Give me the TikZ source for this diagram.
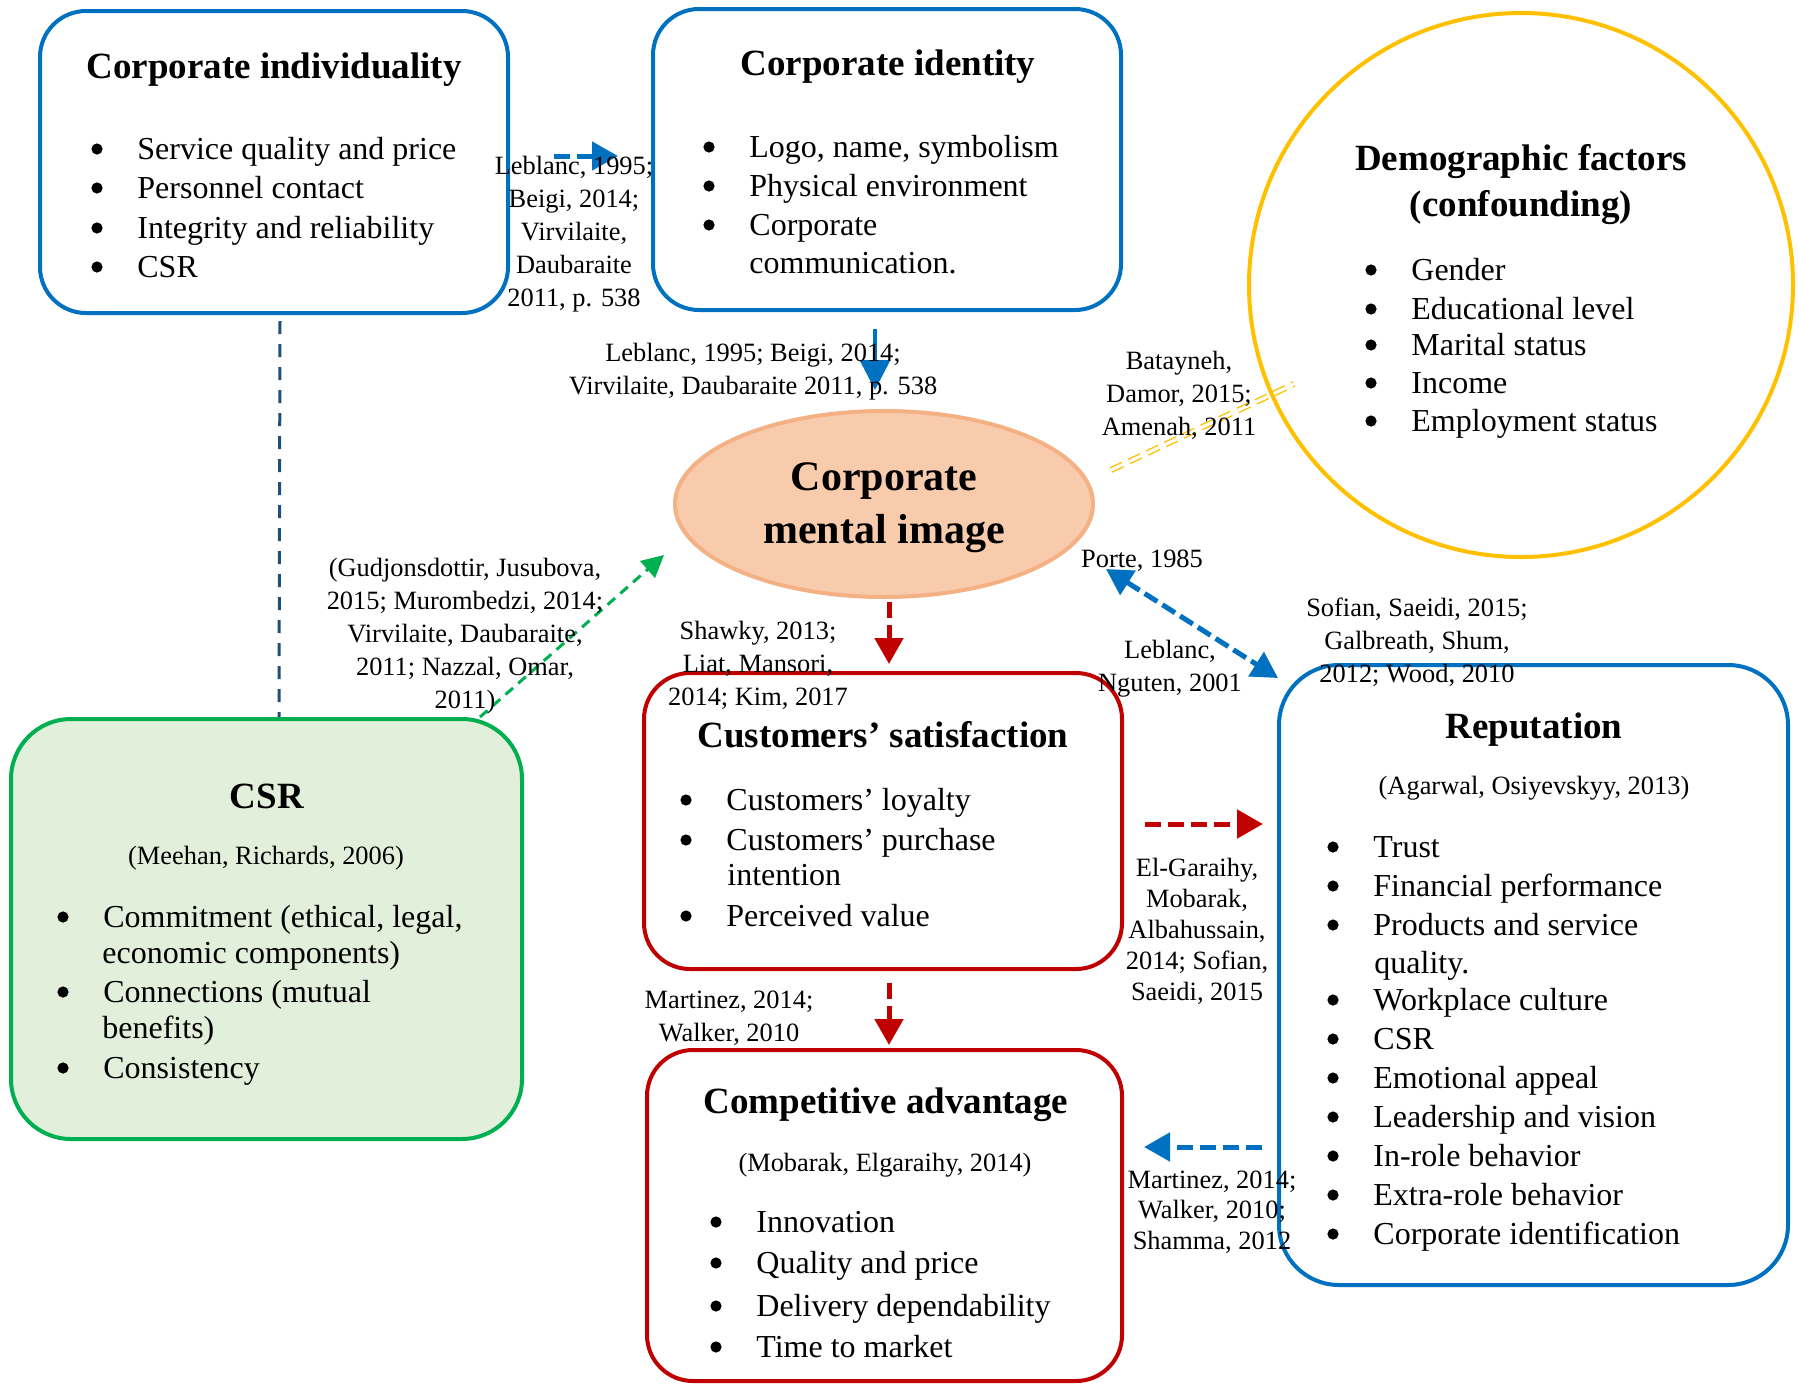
\documentclass[tikz,border=0pt]{standalone}
\usepackage{fontspec}
\setmainfont{Liberation Serif}
\usetikzlibrary{arrows.meta,shapes.geometric,fit}

\definecolor{cblue}{HTML}{0070C0}
\definecolor{cred}{HTML}{C00000}
\definecolor{cgreen}{HTML}{00B050}
\definecolor{cgreenfill}{HTML}{E2EFDA}
\definecolor{cyellow}{HTML}{FFC000}
\definecolor{cpeach}{HTML}{F8CBAD}
\definecolor{cpeachline}{HTML}{F4B183}
\definecolor{cnavy}{HTML}{1F4E79}

\tikzset{
  rbox/.style={draw=#1, line width=2pt, inner sep=0pt},
  ttl/.style={font=\fontsize{18.5}{23}\selectfont\bfseries, align=center, inner sep=0pt},
  ttlb/.style={font=\fontsize{18.5}{23}\selectfont\bfseries, anchor=base, inner sep=0pt},
  body/.style={font=\fontsize{16}{19.5}\selectfont, anchor=base west, inner sep=0pt},
  cite/.style={font=\fontsize{13.2}{16.5}\selectfont, align=center, inner sep=0pt},
  thickarrow/.style={draw=#1, line width=2.5pt, dash pattern=on 8pt off 3.5pt,
    -{Triangle[length=13pt,width=14pt]}},
  thinarrow/.style={draw=#1, line width=1.5pt, dash pattern=on 5pt off 3.5pt,
    -{Triangle[length=11pt,width=11pt]}},
}

% bullet item: name, bullet x, y, text
\newcommand\bitem[4]{%
  \fill (#2,#3) circle[radius=2.8pt];
  \node[body] (#1) at (#2+40,#3+10) {#4};}
% wrapped second line of an item: name, text x, y, text
\newcommand\bcont[4]{%
  \node[body] (#1) at (#2,#3+10) {#4};}

\begin{document}
\begin{tikzpicture}[x=0.5pt,y=-0.5pt]
\useasboundingbox (0,0) rectangle (1799,1383);

% ---------- boxes ----------
\node[rbox=cblue, rounded corners=23pt, fit={(40,11)(508,313)}] (indiv) {};
\node[rbox=cblue, rounded corners=23pt, fit={(653,9)(1121,310)}] (ident) {};
\node[draw=cyellow, line width=2pt, circle, minimum size=272pt, inner sep=0pt] (demo) at (1521,285) {};
\node[draw=cpeachline, fill=cpeach, line width=2pt, ellipse, minimum width=209pt, minimum height=93pt, inner sep=0pt] (image) at (884,504) {};
\node[rbox=cgreen, fill=cgreenfill, rounded corners=30pt, fit={(11,719)(522,1139)}] (csr) {};
\node[rbox=cred, rounded corners=23pt, fit={(644,673)(1122,969)}] (sat) {};
\node[rbox=cred, rounded corners=23pt, fit={(647,1050)(1122,1381)}] (comp) {};
\node[rbox=cblue, rounded corners=30pt, fit={(1279,665)(1788,1285)}] (rep) {};

% ---------- Corporate individuality ----------
\node[ttlb] (indiv-title) at (274,78) {Corporate individuality};
\bitem{indiv-a}{97}{149}{Service quality and price}
\bitem{indiv-b}{97}{188}{Personnel contact}
\bitem{indiv-c}{97}{228}{Integrity and reliability}
\bitem{indiv-d}{97}{267}{CSR}

% ---------- Corporate identity ----------
\node[ttlb] (ident-title) at (888,75) {Corporate identity};
\bitem{ident-a}{709}{147}{Logo, name, symbolism}
\bitem{ident-b}{709}{186}{Physical environment}
\bitem{ident-c}{709}{225}{Corporate}
\bcont{ident-c2}{749}{263}{communication.}

% ---------- Demographic factors ----------
\node[ttl] (demo-title) at (1521,185) {Demographic factors\\(confounding)};
\bitem{demo-a}{1371}{270}{Gender}
\bitem{demo-b}{1371}{309}{Educational level}
\bitem{demo-c}{1371}{345}{Marital status}
\bitem{demo-d}{1371}{383}{Income}
\bitem{demo-e}{1371}{421}{Employment status}

% ---------- Corporate mental image ----------
\node[font=\fontsize{21}{26.5}\selectfont\bfseries, align=center, inner sep=0pt] (image-title) at (884,508) {Corporate\\mental image};

% ---------- CSR ----------
\node[ttlb] (csr-title) at (267,808) {CSR};
\node[cite] (csr-src) at (266,858) {(Meehan, Richards, 2006)};
\bitem{csr-a}{63}{917}{Commitment (ethical, legal,}
\bcont{csr-a2}{102}{953}{economic components)}
\bitem{csr-b}{63}{992}{Connections (mutual}
\bcont{csr-b2}{102}{1028}{benefits)}
\bitem{csr-c}{63}{1068}{Consistency}

% ---------- Customers' satisfaction ----------
\node[ttlb] (sat-title) at (883,747) {Customers’ satisfaction};
\bitem{sat-a}{686}{800}{Customers’ loyalty}
\bitem{sat-b}{686}{840}{Customers’ purchase}
\bcont{sat-b2}{727}{875}{intention}
\bitem{sat-c}{686}{916}{Perceived value}

% ---------- Competitive advantage ----------
\node[ttlb] (comp-title) at (886,1113) {Competitive advantage};
\node[cite] (comp-src) at (885,1165) {(Mobarak, Elgaraihy, 2014)};
\bitem{comp-a}{716}{1222}{Innovation}
\bitem{comp-b}{716}{1263}{Quality and price}
\bitem{comp-c}{716}{1306}{Delivery dependability}
\bitem{comp-d}{716}{1347}{Time to market}

% ---------- Reputation ----------
\node[ttlb] (rep-title) at (1534,738) {Reputation};
\node[cite] (rep-src) at (1534,788) {(Agarwal, Osiyevskyy, 2013)};
\bitem{rep-a}{1333}{847}{Trust}
\bitem{rep-b}{1333}{886}{Financial performance}
\bitem{rep-c}{1333}{925}{Products and service}
\bcont{rep-c2}{1374}{963}{quality.}
\bitem{rep-d}{1333}{1000}{Workplace culture}
\bitem{rep-e}{1333}{1039}{CSR}
\bitem{rep-f}{1333}{1078}{Emotional appeal}
\bitem{rep-g}{1333}{1117}{Leadership and vision}
\bitem{rep-h}{1333}{1156}{In-role behavior}
\bitem{rep-i}{1333}{1195}{Extra-role behavior}
\bitem{rep-j}{1333}{1234}{Corporate identification}

% ---------- connector end points ----------
\coordinate (indiv-out) at (554,156);
\coordinate (ident-in) at (618,156);
\coordinate (ident-out) at (875,329);
\coordinate (image-in) at (875,390);
\coordinate (indiv-down) at (280,321);
\coordinate (csr-up) at (279,717);
\coordinate (csr-out) at (480,717);
\coordinate (image-ll) at (664,555);
\coordinate (image-r) at (1111,470);
\coordinate (demo-l) at (1294,384);
\coordinate (image-lr) at (1106,569);
\coordinate (rep-ul) at (1278,678);
\coordinate (image-out) at (889,602);
\coordinate (sat-in) at (889,664);
\coordinate (sat-out) at (1145,824);
\coordinate (rep-in) at (1263,824);
\coordinate (sat-down) at (889,983);
\coordinate (comp-in) at (889,1045);
\coordinate (rep-out) at (1262,1147);
\coordinate (comp-r) at (1144,1147);

% ---------- connectors ----------
\draw[thickarrow=cblue] (indiv-out) -- (ident-in);
\draw[draw=cblue, line width=1.8pt, dash pattern=on 26pt off 3pt,
  -{Triangle[length=15pt,width=15pt]}] (ident-out) -- (image-in);
\draw[draw=cnavy, line width=1.5pt, dash pattern=on 6.5pt off 5pt] (indiv-down) -- (csr-up);
\draw[thinarrow=cgreen] (csr-out) -- (image-ll);
\draw[draw=cyellow, line width=0.7pt, double=white, double distance=1.6pt,
  dash pattern=on 6.5pt off 3.5pt] (image-r) -- (demo-l);
\draw[draw=cblue, line width=2.5pt, dash pattern=on 7.5pt off 3pt,
  {Triangle[length=13pt,width=14pt]}-{Triangle[length=13pt,width=14pt]}] (image-lr) -- (rep-ul);
\draw[thickarrow=cred] (image-out) -- (sat-in);
\draw[thickarrow=cred] (sat-out) -- (rep-in);
\draw[thickarrow=cred] (sat-down) -- (comp-in);
\draw[thickarrow=cblue] (rep-out) -- (comp-r);

% ---------- connector labels ----------
\node[cite] (lbl-indiv-ident) at (574,234) {Leblanc, 1995;\\Beigi, 2014;\\Virvilaite,\\Daubaraite\\2011, p. 538};
\node[cite] (lbl-ident-image) at (753,372) {Leblanc, 1995; Beigi, 2014;\\Virvilaite, Daubaraite 2011, p. 538};
\node[cite] (lbl-csr-image) at (465,636) {(Gudjonsdottir, Jusubova,\\2015; Murombedzi, 2014;\\Virvilaite, Daubaraite,\\2011; Nazzal, Omar,\\2011)};
\node[cite] (lbl-demo) at (1179,395) {Batayneh,\\Damor, 2015;\\Amenah, 2011};
\node[cite] (lbl-porte) at (1142,561) {Porte, 1985};
\node[cite] (lbl-leblanc) at (1170,669) {Leblanc,\\Nguten, 2001};
\node[cite] (lbl-sofian) at (1417,642) {Sofian, Saeidi, 2015;\\Galbreath, Shum,\\2012; Wood, 2010};
\node[cite] (lbl-image-sat) at (758,665) {Shawky, 2013;\\Liat, Mansori,\\2014; Kim, 2017};
\node[cite, font=\fontsize{13.2}{15.5}\selectfont] (lbl-sat-rep) at (1197,931) {El-Garaihy,\\Mobarak,\\Albahussain,\\2014; Sofian,\\Saeidi, 2015};
\node[cite] (lbl-sat-comp) at (729,1018) {Martinez, 2014;\\Walker, 2010};
\node[cite, font=\fontsize{13.2}{15.2}\selectfont] (lbl-rep-comp) at (1212,1212) {Martinez, 2014;\\Walker, 2010;\\Shamma, 2012};
\end{tikzpicture}
\end{document}
